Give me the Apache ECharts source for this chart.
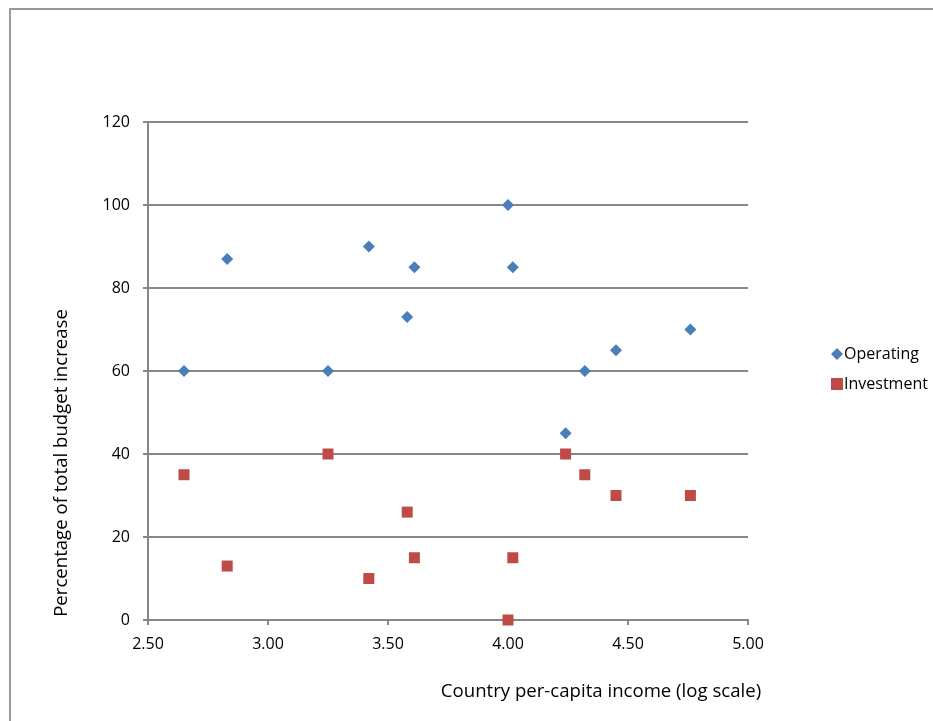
<!DOCTYPE html>
<html><head><meta charset="utf-8">
<script src="https://cdn.jsdelivr.net/npm/echarts@6/dist/echarts.min.js"></script>
<style>html,body{margin:0;padding:0;background:#fff}#c{width:933px;height:721px}</style>
</head><body><div id="c"></div>
<script>
const incomeLog = [2.65, 2.83, 3.25, 3.42, 3.58, 3.61, 4.00, 4.02, 4.24, 4.32, 4.45, 4.76];
const operating = [60, 87, 60, 90, 73, 85, 100, 85, 45, 60, 65, 70];
const investment = [35, 13, 40, 10, 26, 15, 0, 15, 40, 35, 30, 30];
const seriesNames = ['Operating', 'Investment'];
const xTitle = 'Country per-capita income (log scale)';
const yTitle = 'Percentage of total budget increase';

const font = '"Open Sans", "Noto Sans", sans-serif';
const chart = echarts.init(document.getElementById('c'), null, {renderer: 'canvas'});
chart.setOption({
  animation: false,
  textStyle: {fontFamily: font},
  grid: {left: 148, right: 185, top: 122, bottom: 101, containLabel: false},
  xAxis: {
    type: 'value', min: 2.5, max: 5, interval: 0.5,
    axisLine: {lineStyle: {color: '#868686', width: 2}},
    axisTick: {show: true, length: 5, lineStyle: {color: '#868686', width: 2}},
    axisLabel: {color: '#000', fontSize: 16, margin: 16, formatter: v => v.toFixed(2)},
    splitLine: {show: false}
  },
  yAxis: {
    type: 'value', min: 0, max: 120, interval: 20,
    axisLine: {show: true, lineStyle: {color: '#868686', width: 2}},
    axisTick: {show: true, length: 5, lineStyle: {color: '#868686', width: 2}},
    axisLabel: {color: '#000', fontSize: 16, margin: 18},
    splitLine: {show: true, lineStyle: {color: '#868686', width: 2}}
  },
  legend: {
    orient: 'vertical', left: 826, top: 341, itemGap: 14,
    itemWidth: 12, itemHeight: 12, textStyle: {fontSize: 16, color: '#000', padding: [0, 0, 0, -4]},
    data: [{name: seriesNames[0], icon: 'diamond'}, {name: seriesNames[1], icon: 'rect'}]
  },
  graphic: [
    {type: 'rect', shape: {x: 10, y: 9, width: 1000, height: 800}, style: {fill: 'none', stroke: '#999', lineWidth: 2}, z: -1},
    {type: 'text', x: 601, y: 692, style: {text: xTitle, fontSize: 18.6, fontFamily: font, fill: '#000', textAlign: 'center', textVerticalAlign: 'middle'}},
    {type: 'text', x: 62, y: 463, rotation: Math.PI / 2, style: {text: yTitle, fontSize: 18.6, fontFamily: font, fill: '#000', textAlign: 'center', textVerticalAlign: 'middle'}}
  ],
  series: [
    {name: seriesNames[0], type: 'scatter', symbol: 'diamond', symbolSize: 12,
     itemStyle: {color: '#4A7EBB', opacity: 1}, data: incomeLog.map((x, i) => [x, operating[i]])},
    {name: seriesNames[1], type: 'scatter', symbol: 'rect', symbolSize: 11,
     itemStyle: {color: '#BE4B48', opacity: 1}, data: incomeLog.map((x, i) => [x, investment[i]])}
  ]
});
</script></body></html>
